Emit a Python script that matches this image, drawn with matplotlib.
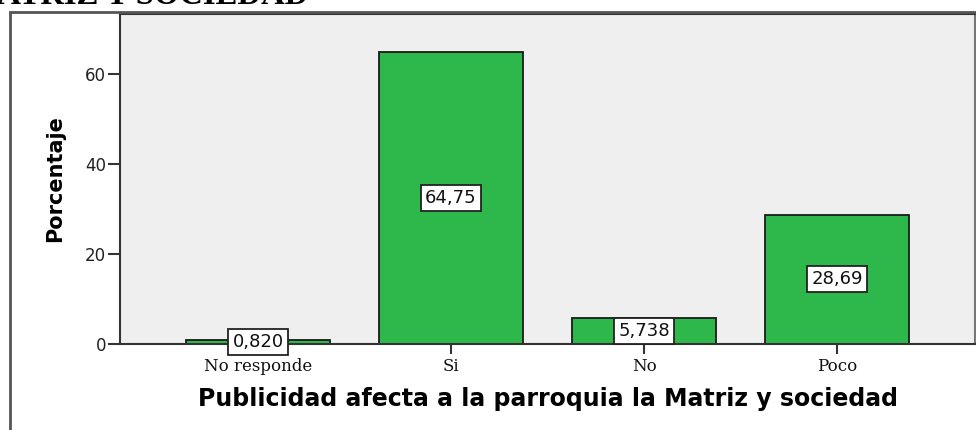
import matplotlib
matplotlib.use("Agg")
import matplotlib.pyplot as plt
from matplotlib.patches import Rectangle

# data
categorias = ["No responde", "Si", "No", "Poco"]
porcentajes = [0.820, 64.75, 5.738, 28.69]
etiquetas = ["0,820", "64,75", "5,738", "28,69"]
yticks = [0, 20, 40, 60]

fig = plt.figure(figsize=(9.76, 4.30), dpi=100)

# cut-off heading above the chart
fig.text(308 / 976, 1 - 4 / 430, "LA MATRIZ Y SOCIEDAD", ha="right", va="baseline",
         fontsize=23.5, fontweight="bold", family="Liberation Serif")

# outer frame of the chart
fig.patches.append(Rectangle((10 / 976, -0.1), 1.2, 1 - 12 / 430 + 0.1,
                             transform=fig.transFigure, fill=False,
                             edgecolor="#555555", lw=2, clip_on=False))

ax = fig.add_axes([120 / 976, 1 - 344 / 430, 855 / 976, 330 / 430])
ax.set_facecolor("#EFEFEF")

x = range(len(categorias))
ax.bar(x, porcentajes, width=0.75, color="#2EB84C", edgecolor="#1A1A1A", lw=1.3, zorder=2)

for i, (v, t) in enumerate(zip(porcentajes, etiquetas)):
    ax.text(i, v / 2, t, ha="center", va="center", fontsize=13, color="#111111", zorder=3,
            bbox=dict(boxstyle="square,pad=0.22", fc="white", ec="#222222", lw=1.3))

ax.set_xlim(-0.715, 3.715)
ax.set_ylim(0, 73.3)
ax.set_yticks(yticks)
ax.set_yticklabels([str(v) for v in yticks], fontsize=12, color="#222222")
ax.set_xticks(list(x))
ax.set_xticklabels(categorias, fontsize=12, family="DejaVu Serif", color="#111111")
ax.tick_params(axis="y", length=9, width=1.5, color="#333333", pad=1)
ax.tick_params(axis="x", length=7, width=1.5, color="#333333", pad=3)

for s in ax.spines.values():
    s.set_color("#333333")
    s.set_linewidth(1.5)
ax.spines["right"].set_color("#777777")

ax.set_ylabel("Porcentaje", fontsize=15, fontweight="bold", family="DejaVu Sans", labelpad=14)
ax.set_xlabel("Publicidad afecta a la parroquia la Matriz y sociedad", fontsize=17,
              fontweight="bold", family="DejaVu Sans", labelpad=9)

fig.savefig("out.png", dpi=100)
